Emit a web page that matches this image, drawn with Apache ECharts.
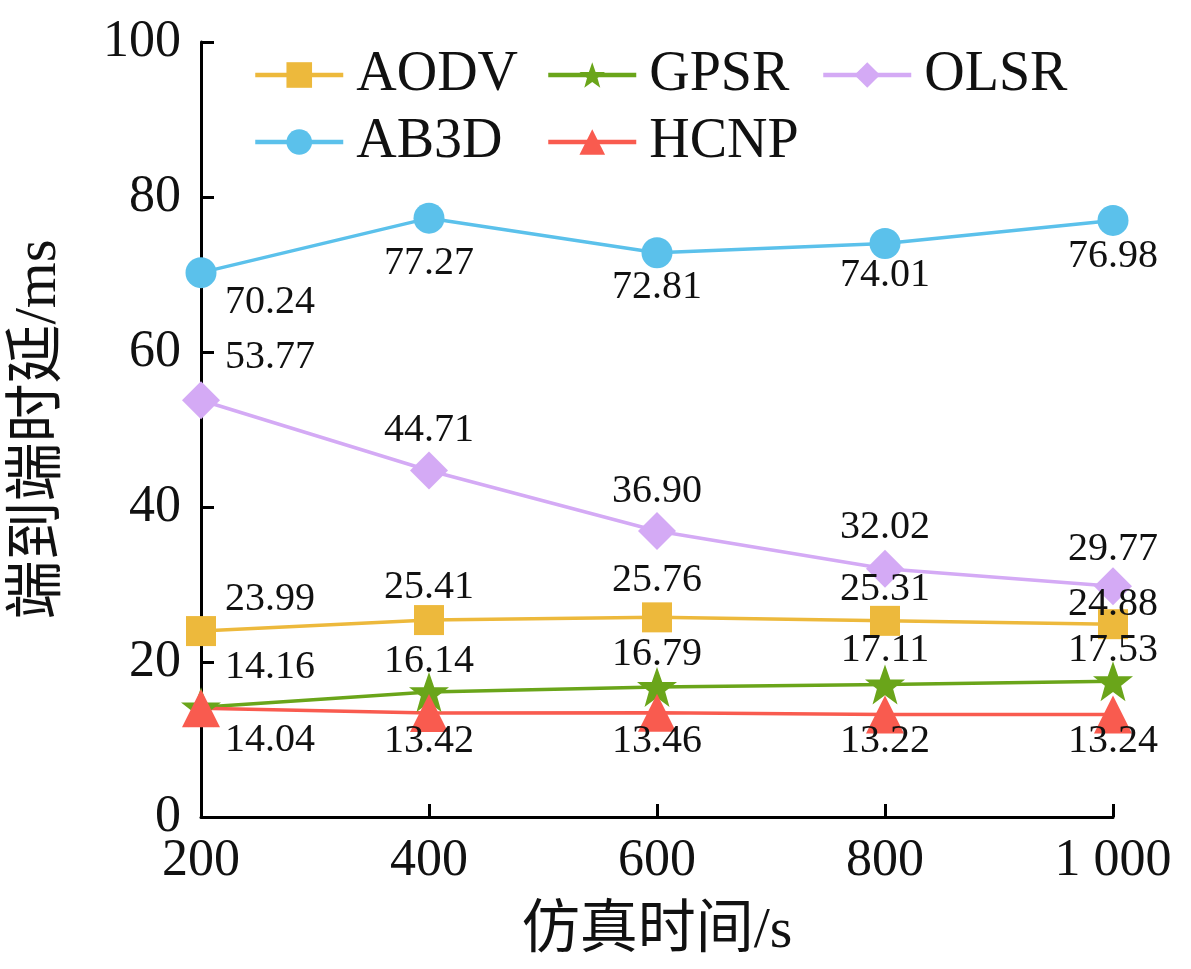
<html>
<head>
<meta charset="utf-8" />
<script src='https://cdn.jsdelivr.net/npm/echarts@6/dist/echarts.min.js'></script>
<style type="text/css">
	html, body, #main {
	width: 100%;
	height: 100%;
	margin: 0;
	background: #fff;
}
</style>
</head>
<body>
	<div id='main'></div>
	<script>
		var chart = echarts.init(document.getElementById('main'));

		// data
		var times = [200, 400, 600, 800, 1000];
		var aodv = [23.99, 25.41, 25.76, 25.31, 24.88];
		var gpsr = [14.16, 16.14, 16.79, 17.11, 17.53];
		var olsr = [53.77, 44.71, 36.90, 32.02, 29.77];
		var ab3d = [70.24, 77.27, 72.81, 74.01, 76.98];
		var hcnp = [14.04, 13.42, 13.46, 13.22, 13.24];
		var yTicks = [0, 20, 40, 60, 80, 100];

		var serif = '"Liberation Serif", "Times New Roman", serif';
		var cjk = '"Liberation Serif", "Noto Sans CJK SC", serif';
		var starPath = 'path://M50,0 L62.5,35 L98,35 L69.5,56.5 L80,92 L50,71 L20,92 L30.5,56.5 L2,35 L37.5,35 Z';

		// label placement (pixel offsets from each point)
		var labelOffsets = {
			AODV: [[69, -32], [0, -33], [0, -37], [0, -31], [0, -20]],
			GPSR: [[69, -40], [0, -30], [0, -32], [0, -34], [0, -31]],
			OLSR: [[69, -43], [0, -40], [0, -40], [0, -41], [0, -37]],
			AB3D: [[69, 30], [0, 45], [0, 35], [0, 32], [0, 36]],
			HCNP: [[69, 32], [0, 29], [0, 29], [0, 27], [0, 27]]
		};

		function build(name, values) {
			var out = [];
			for (var i = 0; i < times.length; i++) {
				out.push({
					value: [times[i], values[i]],
					label: { offset: labelOffsets[name][i] }
				});
			}
			return out;
		}

		function line(name, values, color, symbol, size) {
			return {
				name: name,
				type: 'line',
				data: build(name, values),
				symbol: symbol,
				symbolSize: size,
				itemStyle: { color: color },
				lineStyle: { color: color, width: 3.5 },
				label: {
					show: true,
					position: 'inside',
					fontFamily: serif,
					fontSize: 40,
					color: '#111',
					formatter: function (p) { return p.value[1].toFixed(2); }
				},
				emphasis: { disabled: true },
				animation: false
			};
		}

		function legendAt(name, left, top) {
			return {
				data: [name],
				left: left,
				top: top,
				itemWidth: 88,
				itemHeight: 32,
				itemGap: 16,
				lineStyle: { width: 4.5 },
				textStyle: { fontFamily: serif, fontSize: 56, color: '#111', padding: [0, 0, 0, 8] },
				selectedMode: false
			};
		}

		var option = {
			backgroundColor: '#fff',
			legend: [
				legendAt('AODV', 248, 42),
				legendAt('GPSR', 541, 42),
				legendAt('OLSR', 816, 42),
				legendAt('AB3D', 248, 109),
				legendAt('HCNP', 541, 109)
			],
			grid: { left: 201, right: 78, top: 42, bottom: 152, containLabel: false, outerBoundsMode: 'none' },
			xAxis: {
				type: 'value',
				min: 200,
				max: 1000,
				interval: 200,
				name: '仿真时间/s',
				nameLocation: 'middle',
				nameGap: 86,
				nameTextStyle: { fontFamily: cjk, fontSize: 58, color: '#111' },
				axisLine: { lineStyle: { color: '#000', width: 3 } },
				axisTick: { inside: true, length: 13, lineStyle: { color: '#000', width: 3 } },
				axisLabel: {
					fontFamily: serif, fontSize: 52, color: '#111', margin: 18,
					formatter: function (v) { return v >= 1000 ? '1 000' : String(v); }
				},
				splitLine: { show: false }
			},
			yAxis: {
				type: 'value',
				min: yTicks[0],
				max: yTicks[yTicks.length - 1],
				interval: 20,
				name: '端到端时延/ms',
				nameLocation: 'middle',
				nameGap: 132,
				nameTextStyle: { fontFamily: cjk, fontSize: 59, color: '#111' },
				axisLine: { show: true, lineStyle: { color: '#000', width: 3 } },
				axisTick: { show: true, inside: true, length: 13, lineStyle: { color: '#000', width: 3 } },
				axisLabel: { fontFamily: serif, fontSize: 52, color: '#111', margin: 20 },
				splitLine: { show: false }
			},
			series: [
				line('AODV', aodv, '#EDB93C', 'rect', 30),
				line('GPSR', gpsr, '#6AA51A', starPath, 40),
				line('OLSR', olsr, '#D4AAF5', 'diamond', 38),
				line('AB3D', ab3d, '#5BC1EB', 'circle', 31),
				line('HCNP', hcnp, '#F95B4F', 'triangle', 38)
			]
		};

		chart.setOption(option);

		window.onresize = function() {
			chart.resize();
		}
	</script>
</body>
</html>
